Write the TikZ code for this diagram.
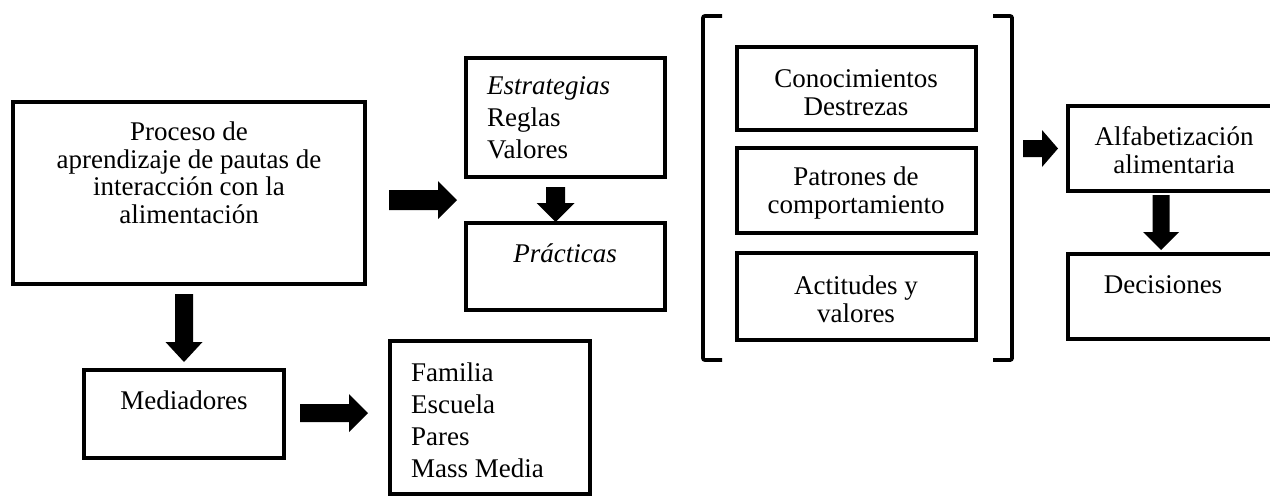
\documentclass[tikz,border=0pt]{standalone}
\usepackage{fontspec}
\setmainfont{Liberation Serif}
\begin{document}
\begin{tikzpicture}[x=1pt,y=-1pt,
  box/.style={draw=black,line width=3.6pt},
  txt/.style={inner sep=0pt,anchor=base,font=\fontsize{27}{27.4}\selectfont,align=center},
  ltxt/.style={inner sep=0pt,anchor=base west,font=\fontsize{27}{32}\selectfont,align=left},
  pics/rarr/.style n args={4}{code={\fill[black] (0,-#2) -- (#1-#4,-#2) -- (#1-#4,-#3) -- (#1,0) -- (#1-#4,#3) -- (#1-#4,#2) -- (0,#2) -- cycle;}},
  pics/darr/.style n args={4}{code={\fill[black] (-#2,0) -- (-#2,#1-#4) -- (-#3,#1-#4) -- (0,#1) -- (#3,#1-#4) -- (#2,#1-#4) -- (#2,0) -- cycle;}},
  brk/.style={line width=3.8pt,rounded corners=2pt}]
\useasboundingbox (0,0) rectangle (1270,496);
% boxes
\draw[box] (13,102) rectangle (365,284);
\draw[box] (466,58) rectangle (665,177);
\draw[box] (466,223) rectangle (665,310);
\draw[box] (737,47) rectangle (976,130);
\draw[box] (737,148) rectangle (976,233);
\draw[box] (737,253) rectangle (976,340);
\draw[box] (1068,106) rectangle (1285,191);
\draw[box] (1068,254) rectangle (1285,339);
\draw[box] (84,370) rectangle (284,458);
\draw[box] (390,341) rectangle (590,494);
% texts (anchored at the baseline of their last line)
\node[txt] (proc) at (189,223) {Proceso de\\aprendizaje de pautas de\\interacción con la\\alimentación};
\node[ltxt] (estr) at (487,158) {\textit{Estrategias}\\Reglas\\Valores};
\node[txt] (prac) at (565,262) {\textit{Prácticas}};
\node[txt] (cono) at (856,115) {Conocimientos\\Destrezas};
\node[txt] (patr) at (856,213) {Patrones de\\comportamiento};
\node[txt] (acti) at (856,322) {Actitudes y\\valores};
\node[txt] (alfa) at (1174,173) {Alfabetización\\alimentaria};
\node[txt] (deci) at (1163,293) {Decisiones};
\node[txt] (medi) at (184,409) {Mediadores};
\node[ltxt] (fami) at (411,477) {Familia\\Escuela\\Pares\\Mass Media};
% brackets
\draw[brk] (722,16) -- (703,16) -- (703,360) -- (722,360);
\draw[brk] (993,16) -- (1012,16) -- (1012,360) -- (993,360);
% block arrows
\pic (ar1) at (389,200) {rarr={68}{10}{19}{19}};
\pic (ar2) at (555.5,187) {darr={35}{9.5}{19}{19}};
\pic (ar3) at (184,294) {darr={68}{9}{18.5}{20}};
\pic (ar4) at (300,413) {rarr={68}{9}{19}{19}};
\pic (ar5) at (1023,148.5) {rarr={35}{8.5}{18.5}{16}};
\pic (ar6) at (1161,195) {darr={55}{8.5}{18}{18}};
\end{tikzpicture}
\end{document}
